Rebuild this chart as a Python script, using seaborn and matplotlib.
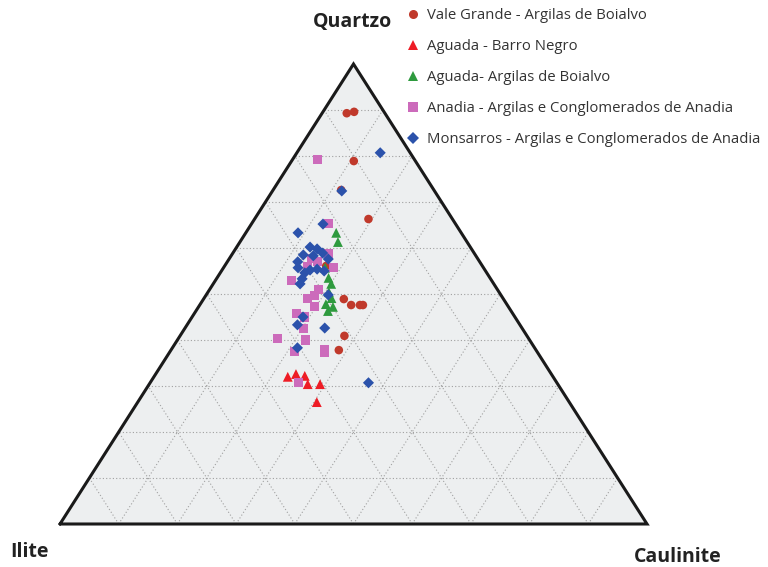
import numpy as np
import pandas as pd
import seaborn as sns
import matplotlib.pyplot as plt
from matplotlib.lines import Line2D

vale_quartzo = [89.3, 89.6, 78.9, 72.6, 66.3, 56.1, 48.9, 47.6, 47.6, 47.6, 40.9, 37.8]
vale_caulinite = [4.2, 5.3, 10.6, 11.6, 19.4, 17.3, 23.9, 25.8, 27.3, 27.8, 28.0, 28.6]

barro_quartzo = [32.0, 32.6, 32.2, 30.4, 30.4, 26.5]
barro_caulinite = [22.8, 23.9, 25.6, 27.0, 29.1, 30.5]

boialvo_quartzo = [63.3, 61.3, 55.7, 53.5, 52.2, 50.4, 49.1, 47.8, 47.2, 46.3]
boialvo_caulinite = [15.4, 16.7, 17.3, 19.0, 20.1, 20.6, 21.7, 21.4, 22.9, 22.5]

anadia_quartzo = [79.3, 65.4, 57.8, 57.0, 55.9, 55.7, 58.9, 53.0, 49.1, 49.6, 50.9,
                  47.2, 45.7, 45.0, 42.6, 40.4, 40.0, 37.4, 38.0, 37.2, 30.7]
anadia_caulinite = [4.3, 13.0, 13.9, 15.3, 14.2, 18.7, 16.3, 13.0, 17.6, 18.6, 18.6,
                    19.7, 17.4, 19.2, 20.1, 16.8, 21.9, 21.2, 26.1, 26.4, 25.2]

monsarros_quartzo = [80.7, 72.4, 65.2, 63.3, 60.2, 59.8, 58.9, 58.5, 57.6, 57.0, 55.7,
                     55.2, 55.4, 54.6, 55.0, 53.3, 52.2, 49.8, 45.0, 43.3, 42.6, 38.3,
                     30.7, 58.3]
monsarros_caulinite = [14.2, 11.8, 12.2, 8.9, 12.5, 13.9, 15.3, 12.2, 16.9, 12.0, 12.7,
                       15.0, 16.1, 14.4, 17.5, 14.6, 14.8, 20.8, 18.9, 18.8, 23.8, 21.3,
                       37.2, 14.0]

grupos = [
    ('Vale Grande - Argilas de Boialvo', vale_quartzo, vale_caulinite, 'o', '#c0392b', 38),
    ('Aguada - Barro Negro', barro_quartzo, barro_caulinite, '^', '#ee1c25', 50),
    ('Aguada- Argilas de Boialvo', boialvo_quartzo, boialvo_caulinite, '^', '#2e9a3e', 50),
    ('Anadia - Argilas e Conglomerados de Anadia', anadia_quartzo, anadia_caulinite, 's', '#cc6bbb', 42),
    ('Monsarros - Argilas e Conglomerados de Anadia', monsarros_quartzo, monsarros_caulinite, 'D', '#2b52ab', 32),
]

linhas = []
for nome, q, c, _, _, _ in grupos:
    for qi, ci in zip(q, c):
        linhas.append({'Grupo': nome, 'Quartzo': qi, 'Caulinite': ci, 'Ilite': 100 - qi - ci})
df = pd.DataFrame(linhas)

# projeção ternária: base Ilite (esq) -> Caulinite (dir), topo Quartzo
df['x'] = (df['Caulinite'] + df['Quartzo'] / 2) / 100
df['y'] = df['Quartzo'] / 100

sns.set_theme(style='white')
plt.rcParams['font.family'] = ['Open Sans', 'DejaVu Sans']

fig = plt.figure(figsize=(7.68, 5.67), dpi=100)
ax = fig.add_axes([60 / 768, 43 / 567, 587 / 768, 460 / 567])
ax.set_xlim(0, 1)
ax.set_ylim(0, 1)
ax.axis('off')

tri = np.array([[0, 0], [1, 0], [0.5, 1], [0, 0]])
ax.fill(tri[:, 0], tri[:, 1], color='#edeff0', zorder=0)

# grelha pontilhada a cada 10 %
for k in range(1, 10):
    t = k / 10
    ax.plot([t / 2, 1 - t / 2], [t, t], ls=(0, (1, 2)), color='#a0a0a0', lw=0.8, zorder=1)
    ax.plot([t, t + (1 - t) / 2], [0, 1 - t], ls=(0, (1, 2)), color='#a0a0a0', lw=0.8, zorder=1)
    ax.plot([1 - t, (1 - t) / 2], [0, 1 - t], ls=(0, (1, 2)), color='#a0a0a0', lw=0.8, zorder=1)

ax.plot(tri[:, 0], tri[:, 1], color='#1a1a1a', lw=2.2, zorder=2, clip_on=False,
        solid_joinstyle='miter')

for nome, _, _, marcador, cor, tam in grupos:
    sns.scatterplot(data=df[df['Grupo'] == nome], x='x', y='y', marker=marcador,
                    color=cor, s=tam, edgecolor='none', ax=ax, zorder=3, clip_on=False)

handles = [Line2D([], [], marker=m, color=c, ls='none', markersize=6.5, markeredgewidth=0)
           for _, _, _, m, c, _ in grupos]
fig.legend(handles, [g[0] for g in grupos], loc='upper left', bbox_to_anchor=(400 / 768, 1 - 1 / 567),
           frameon=False, fontsize=10.7, labelspacing=1.07, handlelength=0.8, handletextpad=0.55,
           borderpad=0, labelcolor='#333333')

fig.text(352 / 768, 1 - 22 / 567, 'Quartzo', ha='center', va='center', fontsize=14, fontweight='bold',
         color='#222222')
fig.text(10 / 768, 1 - 552 / 567, 'Ilite', ha='left', va='center', fontsize=14, fontweight='bold',
         color='#222222')
fig.text(678 / 768, 1 - 557 / 567, 'Caulinite', ha='center', va='center', fontsize=14, fontweight='bold',
         color='#222222')

fig.savefig('out.png', dpi=100)
